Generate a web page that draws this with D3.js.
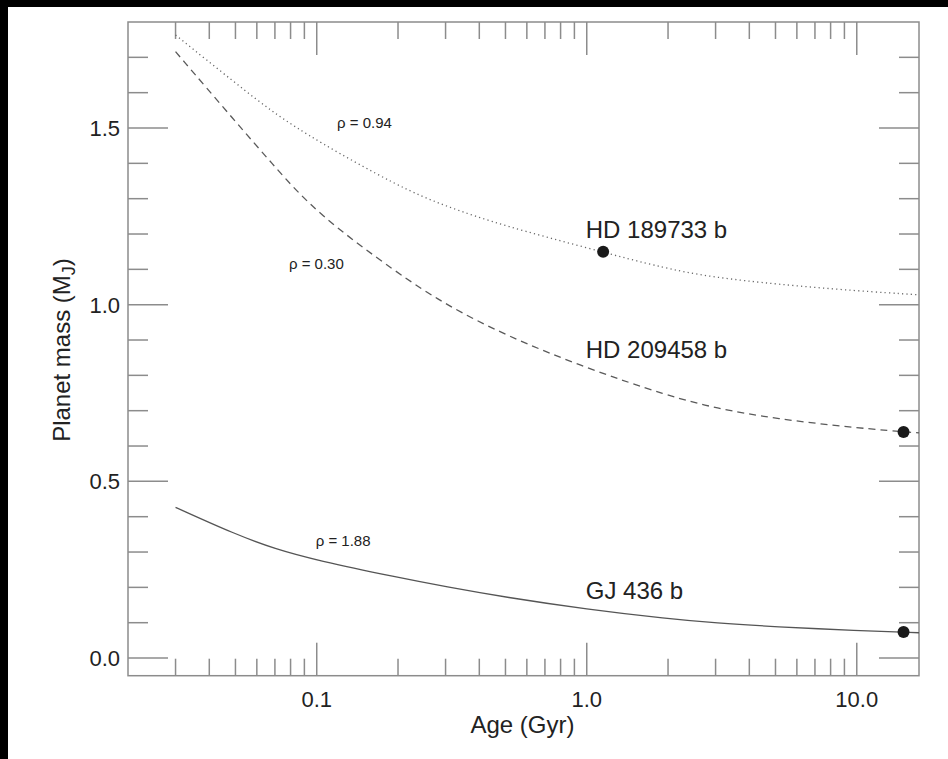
<!DOCTYPE html>
<html>
<head>
<meta charset="utf-8">
<script src="https://cdn.jsdelivr.net/npm/d3@7"></script>
<style>
  html, body { margin: 0; padding: 0; background: #000; }
  svg { display: block; }
</style>
</head>
<body>
<svg id="chart"></svg>
<script>
var ages = [0.03, 0.05, 0.07, 0.1, 0.2, 0.3, 0.5, 1, 2, 3, 5, 10, 17];
// planet mass (M_J) for each density curve
var rho094 = [1.763, 1.627, 1.540, 1.464, 1.335, 1.278, 1.222, 1.161, 1.100, 1.077, 1.058, 1.039, 1.028];
var rho030 = [1.716, 1.518, 1.390, 1.258, 1.088, 1.000, 0.913, 0.820, 0.742, 0.707, 0.677, 0.651, 0.637];
var rho188 = [0.4265, 0.350, 0.309, 0.2765, 0.228, 0.202, 0.172, 0.138, 0.111, 0.099, 0.0885, 0.0775, 0.0716];
// planets
var planetNames = ["HD 189733 b", "HD 209458 b", "GJ 436 b"];
var planetAges = [1.15, 14.9, 14.9];
var planetMasses = [1.15, 0.64, 0.0736];
var rhoLabels = ["\u03c1 = 0.94", "\u03c1 = 0.30", "\u03c1 = 1.88"];
var xMajor = [0.1, 1, 10];
var xTickLabels = ["0.1", "1.0", "10.0"];
var yMajor = [0, 0.5, 1.0, 1.5];
var yTickLabels = ["0.0", "0.5", "1.0", "1.5"];

var width = 948, height = 759;
var pLeft = 128, pRight = 919, pTop = 22, pBottom = 675.7;
var font = "Liberation Sans, Arial, Helvetica, sans-serif";
var axisColor = "#8c8c8c";

var svg = d3.select("#chart").attr("width", width).attr("height", height);

svg.append("rect")
  .attr("x", 8).attr("y", 7)
  .attr("width", width - 8).attr("height", height - 7)
  .attr("fill", "#fff");

var x = d3.scaleLog().domain([0.02, 17]).range([pLeft, pRight]);
var y = d3.scaleLinear().domain([-0.05, 1.8]).range([pBottom, pTop]);

// minor ticks
var xMinor = [];
[0.01, 0.1, 1, 10].forEach(function (dec) {
  for (var k = 2; k <= 9; k++) {
    var v = dec * k;
    if (v > 0.02 && v < 17) xMinor.push(v);
  }
});
var yMinor = d3.range(0, 18).map(function (i) { return i / 10; })
  .filter(function (v) { return yMajor.indexOf(Math.round(v * 10) / 10) < 0; });

var g = svg.append("g");

// ticks bottom and top
function xTicks(vals, len) {
  g.selectAll(null).data(vals).enter().append("line")
    .attr("x1", function (d) { return x(d); }).attr("x2", function (d) { return x(d); })
    .attr("y1", pBottom).attr("y2", pBottom - len)
    .attr("stroke", axisColor).attr("stroke-width", 1.5);
  g.selectAll(null).data(vals).enter().append("line")
    .attr("x1", function (d) { return x(d); }).attr("x2", function (d) { return x(d); })
    .attr("y1", pTop).attr("y2", pTop + len)
    .attr("stroke", axisColor).attr("stroke-width", 1.5);
}
xTicks(xMinor, 17);
xTicks(xMajor, 33);

function yTicks(vals, len) {
  g.selectAll(null).data(vals).enter().append("line")
    .attr("y1", function (d) { return y(d); }).attr("y2", function (d) { return y(d); })
    .attr("x1", pLeft).attr("x2", pLeft + len)
    .attr("stroke", axisColor).attr("stroke-width", 1.5);
  g.selectAll(null).data(vals).enter().append("line")
    .attr("y1", function (d) { return y(d); }).attr("y2", function (d) { return y(d); })
    .attr("x1", pRight).attr("x2", pRight - len)
    .attr("stroke", axisColor).attr("stroke-width", 1.5);
}
yTicks(yMinor, 20);
yTicks(yMajor, 40);

// frame
g.append("rect")
  .attr("x", pLeft).attr("y", pTop)
  .attr("width", pRight - pLeft).attr("height", pBottom - pTop)
  .attr("fill", "none").attr("stroke", axisColor).attr("stroke-width", 1.5);

// tick labels
g.selectAll(null).data(xMajor).enter().append("text")
  .attr("x", function (d) { return x(d); })
  .attr("y", 706.5)
  .attr("text-anchor", "middle")
  .style("font-family", font).style("font-size", "22px").attr("fill", "#222")
  .text(function (d, i) { return xTickLabels[i]; });

g.selectAll(null).data(yMajor).enter().append("text")
  .attr("x", 120)
  .attr("y", function (d) { return y(d); })
  .attr("dy", "0.36em")
  .attr("text-anchor", "end")
  .style("font-family", font).style("font-size", "22px").attr("fill", "#222")
  .text(function (d, i) { return yTickLabels[i]; });

// axis titles
svg.append("text")
  .attr("x", 522.5).attr("y", 732.5)
  .attr("text-anchor", "middle")
  .style("font-family", font).style("font-size", "24px").attr("fill", "#222")
  .text("Age (Gyr)");

var yt = svg.append("text")
  .attr("transform", "translate(70,350)rotate(-90)")
  .attr("text-anchor", "middle")
  .style("font-family", font).style("font-size", "24px").attr("fill", "#222");
yt.append("tspan").text("Planet mass (M");
yt.append("tspan").attr("dy", 5).style("font-size", "18px").text("J");
yt.append("tspan").attr("dy", -5).text(")");

// curves
var line = d3.line()
  .x(function (d) { return x(d[0]); })
  .y(function (d) { return y(d[1]); })
  .curve(d3.curveBasis);

function pairs(vals) { return ages.map(function (a, i) { return [a, vals[i]]; }); }

g.append("path").attr("d", line(pairs(rho094)))
  .attr("fill", "none").attr("stroke", "#666").attr("stroke-width", 1.3)
  .attr("stroke-dasharray", "1.2,3.2");
g.append("path").attr("d", line(pairs(rho030)))
  .attr("fill", "none").attr("stroke", "#5a5a5a").attr("stroke-width", 1.3)
  .attr("stroke-dasharray", "7,5");
g.append("path").attr("d", line(pairs(rho188)))
  .attr("fill", "none").attr("stroke", "#555").attr("stroke-width", 1.3);

// planets
g.selectAll(".dot").data(planetAges).enter().append("circle")
  .attr("class", "dot")
  .attr("cx", function (d) { return x(d); })
  .attr("cy", function (d, i) { return y(planetMasses[i]); })
  .attr("r", 6)
  .attr("fill", "#1a1a1a");

// planet labels
var nameAnchors = [[1.0, 1.19], [1.0, 0.848], [1.0, 0.166]];
g.selectAll(null).data(planetNames).enter().append("text")
  .attr("x", function (d, i) { return x(nameAnchors[i][0]) - 1; })
  .attr("y", function (d, i) { return y(nameAnchors[i][1]); })
  .style("font-family", font).style("font-size", "24px").attr("fill", "#222")
  .text(function (d) { return d; });

// density labels
var rhoAnchors = [[0.12, 1.499], [0.0796, 1.10], [0.1, 0.318]];
g.selectAll(null).data(rhoLabels).enter().append("text")
  .attr("x", function (d, i) { return x(rhoAnchors[i][0]) - 1; })
  .attr("y", function (d, i) { return y(rhoAnchors[i][1]); })
  .style("font-family", font).style("font-size", "15px").attr("fill", "#222")
  .text(function (d) { return d; });
</script>
</body>
</html>
